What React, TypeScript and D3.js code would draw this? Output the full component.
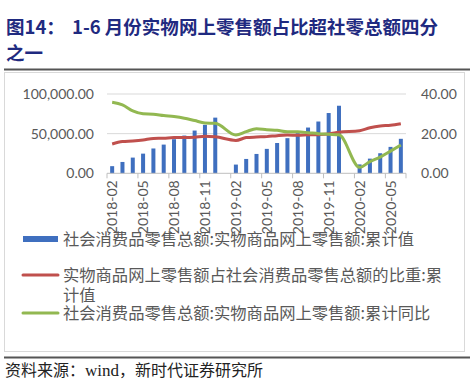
import React from "react";
import * as d3 from "d3";

const months = [
  "2018-02","2018-03","2018-04","2018-05","2018-06","2018-07","2018-08","2018-09","2018-10","2018-11","2018-12",
  "2019-02","2019-03","2019-04","2019-05","2019-06","2019-07","2019-08","2019-09","2019-10","2019-11","2019-12",
  "2020-02","2020-03","2020-04","2020-05","2020-06",
];
const onlineValue = [
  9000, 14300, 19800, 24800, 31300, 36200, 43000, 47600, 53900, 61100, 70200,
  11000, 18100, 24400, 30800, 38200, 44300, 50600, 57700, 65300, 76000, 85200,
  11200, 18500, 25300, 33300, 43500,
];
const shareValue = [
  14.8, 16.0, 16.3, 16.8, 17.6, 17.7, 18.0, 18.0, 18.2, 18.7, 18.4,
  16.6, 18.0, 18.3, 18.5, 19.0, 19.3, 19.2, 19.4, 19.5, 19.8, 20.7,
  21.5, 23.0, 23.9, 24.2, 25.0,
];
const yoyValue = [
  35.8, 34.5, 31.5, 30.0, 29.8, 29.1, 28.6, 27.8, 26.6, 25.4, 25.2,
  19.3, 21.0, 22.5, 22.0, 21.7, 20.9, 20.9, 20.5, 20.0, 19.7, 19.4,
  3.0, 5.9, 8.2, 11.2, 14.3,
];
const leftTicks = [0, 50000, 100000];
const rightTicks = [0, 20, 40];
const legendLabels = [
  "社会消费品零售总额:实物商品网上零售额:累计值",
  "实物商品网上零售额占社会消费品零售总额的比重:累",
  "计值",
  "社会消费品零售总额:实物商品网上零售额:累计同比",
];

const monthIndex = (s: string) => {
  const [y, m] = s.split("-").map(Number);
  return (y - 2018) * 12 + (m - 2);
};

export default function App() {
  const W = 474, H = 392;
  const x = d3.scaleLinear().domain([-0.5, 28.5]).range([107, 406]);
  const yL = d3.scaleLinear().domain([0, 100000]).range([173.3, 94]);
  const yR = d3.scaleLinear().domain([0, 40]).range([173.3, 94]);
  const fmt = d3.format(",.2f");
  const idx = months.map(monthIndex);
  const line = d3.line<number>().x((_, i) => x(idx[i])).y((d) => yR(d)).curve(d3.curveMonotoneX);
  const labelMonths = months.filter((m) => (monthIndex(m) % 3) === 0);
  const tickPos = d3.range(0, 29, 3).map((i) => i - 0.5).concat([28.5]);
  const axisFont = "Lato, 'Open Sans', sans-serif";
  const cjk = "'Noto Sans CJK SC', sans-serif";
  const navy = "#1f2a80";
  const grey = "#595959";
  const colon = { letterSpacing: 0 };

  return (
    <svg width={W} height={H} style={{ position: "absolute", left: 0, top: 0, background: "#fff" }}>
      <rect x={0} y={0} width={W} height={H} fill="#fff" />
      {/* title */}
      <text x={6} y={34} fontFamily={cjk} fontWeight={700} fontSize={18.5} fill={navy}>图14：</text>
      <text x={72} y={34} fontFamily={cjk} fontWeight={700} fontSize={18.5} fill={navy}>1-6 月份实物网上零售额占比超社零总额四分</text>
      <text x={6} y={60} fontFamily={cjk} fontWeight={700} fontSize={18.5} fill={navy}>之一</text>
      <line x1={4} x2={470} y1={69.5} y2={69.5} stroke="#555" strokeWidth={2} />
      <rect x={4.5} y={72.5} width={460} height={279} fill="none" stroke="#d9d9d9" />

      {/* gridlines */}
      {leftTicks.slice(1).map((t) => (
        <line key={t} x1={107} x2={406} y1={yL(t)} y2={yL(t)} stroke="#d9d9d9" strokeWidth={1} />
      ))}
      {/* bars */}
      {onlineValue.map((v, i) => (
        <rect key={i} x={x(idx[i]) - 2} y={yL(v)} width={4} height={yL(0) - yL(v)} fill="#3f6fbf" />
      ))}
      {/* x axis */}
      <line x1={107} x2={406} y1={yL(0)} y2={yL(0)} stroke="#bfbfbf" />
      {tickPos.map((t) => (
        <line key={t} x1={x(t)} x2={x(t)} y1={yL(0)} y2={yL(0) + 5} stroke="#bfbfbf" />
      ))}
      {/* lines */}
      <path d={line(shareValue) || ""} fill="none" stroke="#c0504d" strokeWidth={3} strokeLinejoin="round" />
      <path d={line(yoyValue) || ""} fill="none" stroke="#92b851" strokeWidth={3} strokeLinejoin="round" />

      {/* axis labels */}
      {leftTicks.map((t) => (
        <text key={t} x={94} y={yL(t)} dy="0.35em" textAnchor="end" fontFamily={axisFont} fontSize={14} fill={grey}>{fmt(t)}</text>
      ))}
      {rightTicks.map((t) => (
        <text key={t} x={421} y={yR(t)} dy="0.35em" textAnchor="start" fontFamily={axisFont} fontSize={14} fill={grey}>{fmt(t)}</text>
      ))}
      {labelMonths.map((m) => (
        <text key={m} transform={`translate(${x(monthIndex(m)) + 5},${yL(0) + 7}) rotate(-90)`} textAnchor="end" fontFamily={axisFont} fontSize={14} fill={grey}>{m}</text>
      ))}

      {/* legend */}
      <rect x={23} y={236} width={35} height={6} fill="#3f6fbf" />
      <text x={63} y={239} dy="0.35em" fontFamily={cjk} fontSize={16.3} fill={grey} style={colon}>{legendLabels[0]}</text>
      <line x1={23} x2={58} y1={275} y2={275} stroke="#c0504d" strokeWidth={3} strokeLinecap="round" />
      <text x={63} y={275} dy="0.35em" fontFamily={cjk} fontSize={16.3} fill={grey}>{legendLabels[1]}</text>
      <text x={63} y={295.5} dy="0.35em" fontFamily={cjk} fontSize={16.3} fill={grey}>{legendLabels[2]}</text>
      <line x1={23} x2={58} y1={313} y2={313} stroke="#92b851" strokeWidth={3} strokeLinecap="round" />
      <text x={63} y={313} dy="0.35em" fontFamily={cjk} fontSize={16.3} fill={grey}>{legendLabels[3]}</text>

      {/* source */}
      <line x1={4} x2={470} y1={357.5} y2={357.5} stroke="#555" strokeWidth={2} />
      <text x={5} y={376} fontFamily={cjk} fontSize={16} fill="#222">资料来源：<tspan fontFamily="'Liberation Serif', serif" fontSize={17}>wind</tspan>，新时代证券研究所</text>
    </svg>
  );
}
